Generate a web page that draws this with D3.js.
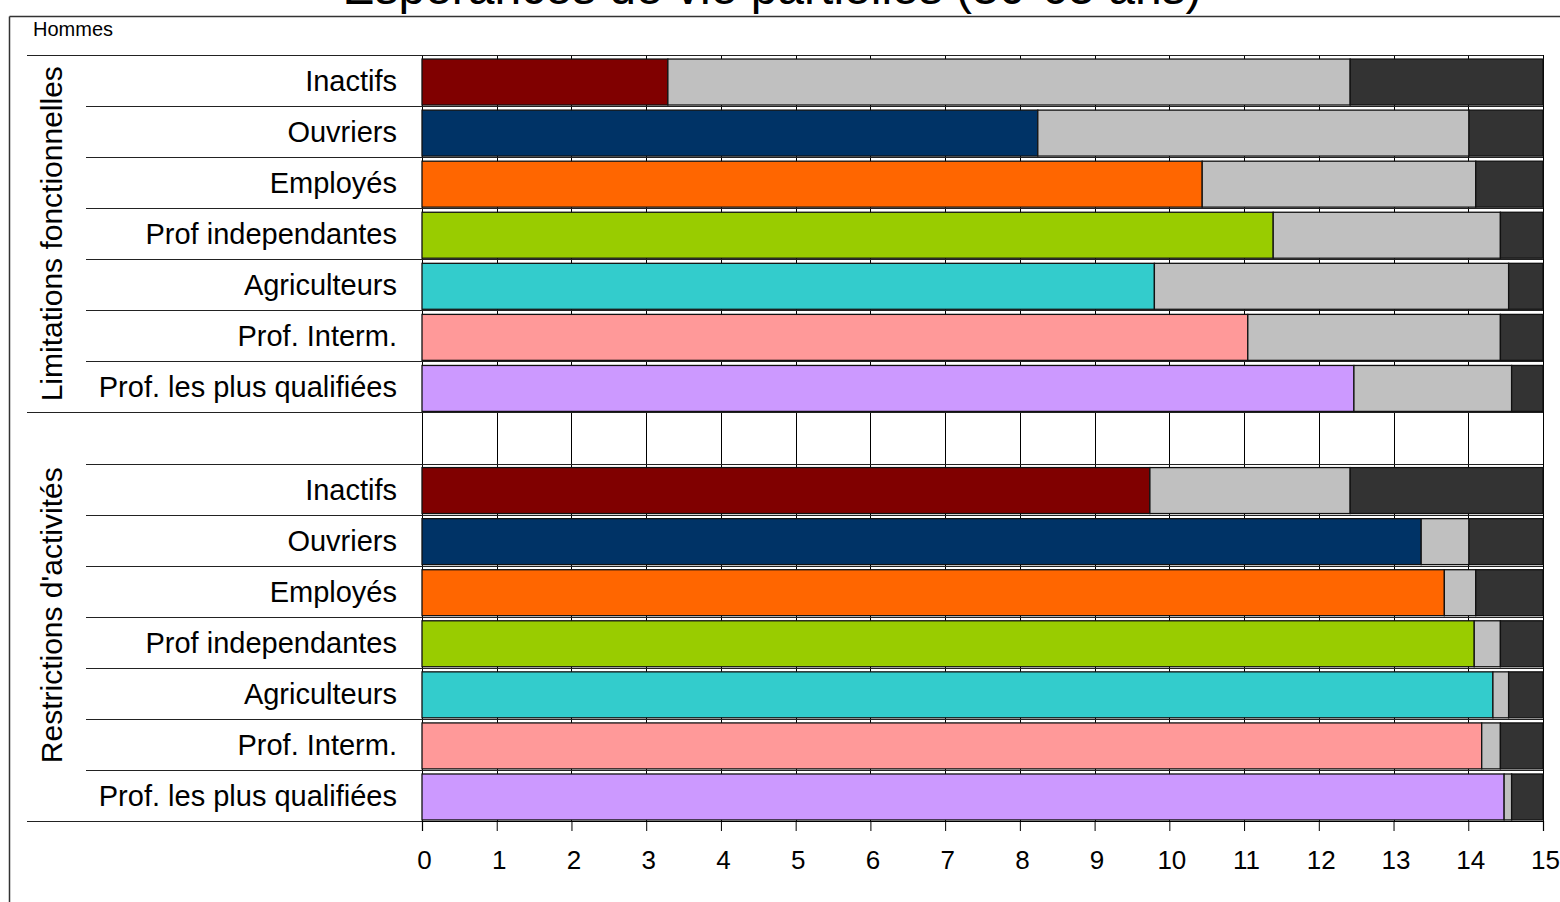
<!DOCTYPE html>
<html>
<head>
<meta charset="utf-8">
<script src="https://cdn.jsdelivr.net/npm/d3@7"></script>
<style>
  html, body { margin: 0; padding: 0; background: #fff; }
  svg { display: block; font-family: "Liberation Sans", Arial, sans-serif; }
</style>
</head>
<body>
<svg id="chart" width="1560" height="902"></svg>
<script>
// ---- Data ----
const title = "Espérances de vie partielles (30-65 ans)";
const subtitle = "Hommes";
const groups = ["Limitations fonctionnelles", "Restrictions d'activités"];
const categories = ["Inactifs", "Ouvriers", "Employés", "Prof independantes", "Agriculteurs", "Prof. Interm.", "Prof. les plus qualifiées"];
const categoryColors = ["#800000", "#003366", "#ff6600", "#99cc00", "#33cccc", "#ff9999", "#cc99ff"];

// Limitations fonctionnelles
const limSans  = [3.29, 8.24, 10.44, 11.39, 9.80, 11.05, 12.47];
const limAvec  = [9.13, 5.77, 3.66, 3.04, 4.74, 3.38, 2.11];
// Restrictions d'activités
const resSans  = [9.74, 13.37, 13.68, 14.08, 14.33, 14.18, 14.48];
const resAvec  = [2.68, 0.64, 0.42, 0.35, 0.21, 0.25, 0.10];
// remaining part up to axis end
const reste    = [2.58, 0.99, 0.90, 0.57, 0.46, 0.57, 0.42];

const tickValues = [0,1,2,3,4,5,6,7,8,9,10,11,12,13,14,15];

// ---- Layout ----
const svg = d3.select("#chart");
const plotLeft = 422, plotRight = 1543, plotTop = 55, plotBottom = 821;
const font = "Liberation Sans, Arial, sans-serif";

const rowKeys = [
  ...categories.map(c => "L|" + c),
  "gap",
  ...categories.map(c => "R|" + c)
];

const x = d3.scaleLinear().domain([0, 15]).range([plotLeft, plotRight]);
const rows = d3.scaleBand().domain(rowKeys).range([plotTop, plotBottom]).paddingInner(0).paddingOuter(0);
const bars = d3.scaleBand().domain(rowKeys).range([plotTop + 1.5, plotBottom + 1.5]).paddingInner(0.1).paddingOuter(0.05);

// Frame
svg.append("line").attr("x1", 9.5).attr("x2", 1560).attr("y1", 16.5).attr("y2", 16.5).attr("stroke", "#333").attr("stroke-width", 1.5);
svg.append("line").attr("x1", 9.5).attr("x2", 9.5).attr("y1", 16.5).attr("y2", 902).attr("stroke", "#333").attr("stroke-width", 1.5);

// Title (cut at the top, as in the reference)
svg.append("text").attr("x", 772).attr("y", 4).attr("text-anchor", "middle")
  .attr("font-size", 48).attr("font-family", font).attr("fill", "#000").text(title);

svg.append("text").attr("x", 33).attr("y", 36).attr("font-size", 20).attr("font-family", font).attr("fill", "#000").text(subtitle);

// Grid: vertical lines at ticks
const g = svg.append("g");
g.selectAll("line.vgrid").data(tickValues).join("line")
  .attr("class", "vgrid")
  .attr("x1", d => Math.round(x(d)) + 0.5).attr("x2", d => Math.round(x(d)) + 0.5)
  .attr("y1", plotTop).attr("y2", plotBottom)
  .attr("stroke", "#000").attr("stroke-width", 1);

// Horizontal lines at row boundaries (plot + label area)
const boundaries = rowKeys.map(k => rows(k)).concat([plotBottom]);
g.selectAll("line.hgrid").data(boundaries).join("line")
  .attr("class", "hgrid")
  .attr("x1", (d, i) => (i === 0 || i === 7 || i === 15) ? 27 : 86)
  .attr("x2", plotRight)
  .attr("y1", d => Math.round(d) + 0.5).attr("y2", d => Math.round(d) + 0.5)
  .attr("stroke", "#222").attr("stroke-width", 1.2);

// Bars
const groupData = [
  { prefix: "L|", sans: limSans, avec: limAvec },
  { prefix: "R|", sans: resSans, avec: resAvec }
];
const segs = [];
groupData.forEach(gd => {
  categories.forEach((c, i) => {
    const key = gd.prefix + c;
    const a = gd.sans[i], b = gd.avec[i], r = reste[i];
    segs.push({ key, x0: 0, x1: a, fill: categoryColors[i] });
    segs.push({ key, x0: a, x1: a + b, fill: "#c0c0c0" });
    segs.push({ key, x0: a + b, x1: a + b + r, fill: "#333333" });
  });
});
svg.append("g").selectAll("rect").data(segs).join("rect")
  .attr("x", d => x(d.x0))
  .attr("width", d => Math.max(0, x(Math.min(15, d.x1)) - x(d.x0)))
  .attr("y", d => bars(d.key))
  .attr("height", bars.bandwidth())
  .attr("fill", d => d.fill)
  .attr("stroke", "#111")
  .attr("stroke-width", 1.3);

// Category labels
svg.append("g").selectAll("text").data(rowKeys.filter(k => k !== "gap")).join("text")
  .attr("x", 397)
  .attr("y", k => rows(k) + rows.bandwidth() / 2)
  .attr("dy", "0.36em")
  .attr("text-anchor", "end")
  .attr("font-size", 29).attr("font-family", font).attr("fill", "#000")
  .text(k => k.split("|")[1]);

// Group labels (rotated)
const groupCenters = [
  (rows("L|" + categories[0]) + rows("L|" + categories[6]) + rows.bandwidth()) / 2,
  (rows("R|" + categories[0]) + rows("R|" + categories[6]) + rows.bandwidth()) / 2 - 27
];
svg.append("g").selectAll("text").data(groups).join("text")
  .attr("transform", (d, i) => `translate(62,${groupCenters[i]}) rotate(-90)`)
  .attr("text-anchor", "middle")
  .attr("font-size", 30).attr("font-family", font).attr("fill", "#000")
  .text(d => d);

// X axis
const axis = d3.axisBottom(x).tickValues(tickValues).tickSize(10).tickPadding(20).tickFormat(d3.format("d"));
const ax = svg.append("g").attr("transform", `translate(0,${plotBottom})`).call(axis);
ax.select(".domain").attr("stroke", "#000").attr("stroke-width", 1.2);
ax.selectAll(".tick line").attr("stroke", "#000");
ax.selectAll(".tick text").attr("font-size", 26).attr("font-family", font).attr("fill", "#000").attr("dx", 2);
</script>
</body>
</html>
